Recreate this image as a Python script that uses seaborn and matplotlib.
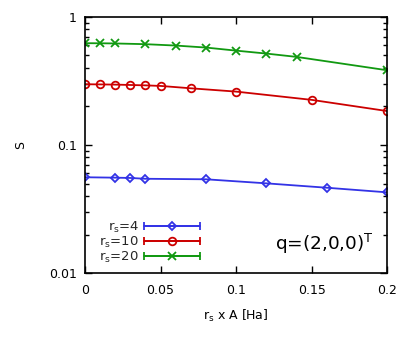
import numpy as np
import pandas as pd
import matplotlib
matplotlib.use("Agg")
import matplotlib.pyplot as plt
import seaborn as sns
from matplotlib.container import ErrorbarContainer
from matplotlib.legend_handler import HandlerErrorbar

# data
x_rs4 = [0, 0.02, 0.03, 0.04, 0.08, 0.12, 0.16, 0.2]
s_rs4 = [0.0560, 0.0556, 0.0553, 0.0545, 0.0540, 0.0502, 0.0464, 0.0427]
x_rs10 = [0, 0.01, 0.02, 0.03, 0.04, 0.05, 0.07, 0.1, 0.15, 0.2]
s_rs10 = [0.298, 0.297, 0.296, 0.294, 0.292, 0.289, 0.277, 0.261, 0.225, 0.184]
x_rs20 = [0, 0.01, 0.02, 0.04, 0.06, 0.08, 0.1, 0.12, 0.14, 0.2]
s_rs20 = [0.623, 0.622, 0.620, 0.612, 0.597, 0.576, 0.545, 0.517, 0.487, 0.383]

labels = [r"r$_\mathrm{s}$=4", r"r$_\mathrm{s}$=10", r"r$_\mathrm{s}$=20"]
colors = ["#3333e6", "#cc0000", "#119911"]
markers = ["D", "o", "x"]
sizes = [4, 5.5, 5.5]

sns.set_style("white")
plt.rcParams["font.family"] = ["DejaVu Sans"]
plt.rcParams["font.size"] = 9
plt.rcParams["mathtext.default"] = "regular"

fig = plt.figure(figsize=(4.15, 3.44), dpi=100)
ax = fig.add_axes([0.205, 0.206, 0.728, 0.745])

series = [(x_rs4, s_rs4), (x_rs10, s_rs10), (x_rs20, s_rs20)]
proxies = []
for (xs, ss), lab, c, m, ms in zip(series, labels, colors, markers, sizes):
    df = pd.DataFrame({"x": xs, "S": ss})
    sns.lineplot(data=df, x="x", y="S", ax=ax, color=c, marker=m, markersize=ms,
                 markerfacecolor="none", markeredgecolor=c, markeredgewidth=1.3,
                 linewidth=1.3, legend=False)
    eb = ax.errorbar([np.nan], [np.nan], xerr=[np.nan], color=c, marker=m, ms=ms,
                     mfc="none", mec=c, mew=1.3, lw=1.3, capsize=3, label=lab)
    proxies.append(eb)

ax.set_yscale("log")
ax.set_ylim(0.01, 1)
ax.set_xlim(0, 0.2)
ax.set_xticks([0, 0.05, 0.1, 0.15, 0.2])
ax.set_xticklabels(["0", "0.05", "0.1", "0.15", "0.2"])
ax.set_yticks([0.01, 0.1, 1])
ax.set_yticklabels(["0.01", "0.1", "1"])
ax.tick_params(which="both", direction="in", top=True, right=True, bottom=True, left=True,
               labelsize=9, colors="black")
ax.tick_params(axis="x", pad=8)
ax.tick_params(axis="y", pad=6)
ax.tick_params(which="major", length=5, width=1)
ax.tick_params(which="minor", length=3, width=1)
for sp in ax.spines.values():
    sp.set_linewidth(1.2)
    sp.set_color("black")

ax.set_xlabel(r"r$_\mathrm{s}$ x A [Ha]", fontsize=9, labelpad=8, color="black")
ax.set_ylabel("S", fontsize=9, labelpad=16, color="black")

leg = ax.legend(handles=proxies, loc="lower left", bbox_to_anchor=(0.008, -0.015),
                frameon=False, markerfirst=False, handlelength=4.2, handletextpad=0.4,
                labelspacing=0.0, numpoints=1, fontsize=9.5,
                handler_map={ErrorbarContainer: HandlerErrorbar(xerr_size=2.1)})

ax.text(0.955, 0.09, r"q=(2,0,0)$^\mathrm{T}$", transform=ax.transAxes,
        ha="right", va="baseline", fontsize=13.3, color="black")

fig.savefig("out.png", dpi=100)
